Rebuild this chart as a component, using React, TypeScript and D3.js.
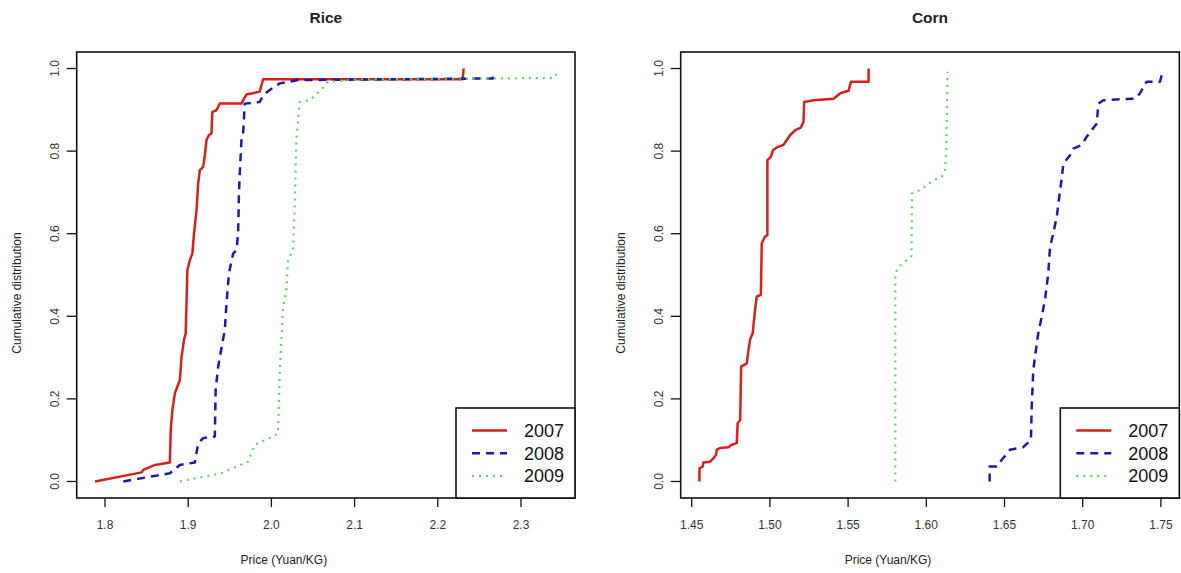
import React from "react";
import * as d3 from "d3";

// price / cumulative share points
const rice2007: [number, number][] = [
  [1.788, 0], [1.844, 0.022], [1.846, 0.028], [1.86, 0.04], [1.878, 0.046],
  [1.879, 0.125], [1.881, 0.173], [1.884, 0.214], [1.887, 0.23], [1.89, 0.246],
  [1.892, 0.302], [1.895, 0.343], [1.897, 0.359], [1.899, 0.512], [1.902, 0.536],
  [1.905, 0.552], [1.907, 0.601], [1.91, 0.657], [1.912, 0.722], [1.914, 0.754],
  [1.918, 0.762], [1.92, 0.79], [1.922, 0.827], [1.925, 0.839], [1.928, 0.843],
  [1.929, 0.895], [1.934, 0.899], [1.938, 0.915], [1.964, 0.915], [1.967, 0.927],
  [1.97, 0.937], [1.986, 0.944], [1.99, 0.974], [2.23, 0.974], [2.231, 1.0],
];
const rice2008: [number, number][] = [
  [1.822, 0], [1.878, 0.02], [1.89, 0.04], [1.908, 0.046], [1.912, 0.093],
  [1.918, 0.105], [1.932, 0.109], [1.933, 0.222], [1.936, 0.278], [1.94, 0.323],
  [1.944, 0.367], [1.946, 0.431], [1.949, 0.504], [1.954, 0.552], [1.958, 0.56],
  [1.96, 0.601], [1.961, 0.698], [1.962, 0.746], [1.964, 0.827], [1.966, 0.843],
  [1.968, 0.915], [1.986, 0.919], [1.99, 0.935], [1.998, 0.948], [2.01, 0.964],
  [2.032, 0.972], [2.266, 0.976], [2.267, 0.988],
];
const rice2009: [number, number][] = [
  [1.89, 0], [1.91, 0.008], [1.94, 0.02], [1.972, 0.048], [1.98, 0.089],
  [2.002, 0.109], [2.008, 0.117], [2.01, 0.262], [2.012, 0.343], [2.014, 0.423],
  [2.018, 0.464], [2.02, 0.536], [2.026, 0.56], [2.028, 0.665], [2.03, 0.827],
  [2.034, 0.919], [2.046, 0.923], [2.06, 0.949], [2.068, 0.968], [2.106, 0.974],
  [2.34, 0.977], [2.343, 0.99],
];

const corn2007: [number, number][] = [
  [1.4549, 0], [1.455, 0.032], [1.457, 0.036], [1.4575, 0.046], [1.4617, 0.048],
  [1.4639, 0.056], [1.4656, 0.065], [1.466, 0.077], [1.4681, 0.081], [1.4735, 0.083],
  [1.4756, 0.089], [1.4788, 0.093], [1.4794, 0.141], [1.481, 0.149], [1.4816, 0.278],
  [1.4852, 0.286], [1.4863, 0.319], [1.4873, 0.343], [1.489, 0.359], [1.4905, 0.415],
  [1.4916, 0.448], [1.4942, 0.452], [1.4948, 0.577], [1.4969, 0.593], [1.4984, 0.597],
  [1.4984, 0.778], [1.5006, 0.786], [1.5019, 0.802], [1.5044, 0.809], [1.5087, 0.815],
  [1.5108, 0.827], [1.513, 0.839], [1.5162, 0.851], [1.5198, 0.857], [1.5215, 0.871],
  [1.5219, 0.919], [1.5279, 0.923], [1.5407, 0.927], [1.545, 0.94], [1.5503, 0.946],
  [1.5518, 0.968], [1.5631, 0.968], [1.5631, 1.0],
];
const corn2008: [number, number][] = [
  [1.6405, 0], [1.6405, 0.036], [1.645, 0.036], [1.6482, 0.052], [1.6535, 0.077],
  [1.662, 0.083], [1.6669, 0.101], [1.6674, 0.181], [1.6684, 0.27], [1.6701, 0.319],
  [1.6716, 0.359], [1.6738, 0.399], [1.6759, 0.44], [1.678, 0.504], [1.6791, 0.568],
  [1.6812, 0.601], [1.6834, 0.641], [1.685, 0.689], [1.6866, 0.734], [1.6876, 0.77],
  [1.6919, 0.79], [1.694, 0.806], [1.6994, 0.815], [1.7026, 0.835], [1.7058, 0.851],
  [1.709, 0.867], [1.71, 0.915], [1.7132, 0.923], [1.7217, 0.925], [1.7334, 0.927],
  [1.7366, 0.94], [1.7409, 0.968], [1.7494, 0.968], [1.7505, 0.984],
];
const corn2009: [number, number][] = [
  [1.5802, 0], [1.5802, 0.504], [1.5823, 0.52], [1.5876, 0.536], [1.5905, 0.546],
  [1.5909, 0.698], [1.5962, 0.706], [1.6047, 0.73], [1.61, 0.738], [1.612, 0.754],
  [1.6128, 0.802], [1.6136, 0.992],
];

const years = ["2007", "2008", "2009"];
const riceTicks = [1.8, 1.9, 2.0, 2.1, 2.2, 2.3];
const cornTicks = [1.45, 1.5, 1.55, 1.6, 1.65, 1.7, 1.75];
const yTicks = [0, 0.2, 0.4, 0.6, 0.8, 1.0];

const styles = [
  { color: "#d42020", width: 2.5, dash: "none" },
  { color: "#1c1ca0", width: 2.5, dash: "8 6" },
  { color: "#5fd35f", width: 2.2, dash: "2 5" },
];

const font = "'Liberation Sans', Arial, sans-serif";

interface PanelProps {
  title: string;
  left: number;
  right: number;
  xDomain: [number, number];
  xTicks: number[];
  tickFmt: (v: number) => string;
  series: [number, number][][];
}

const top = 52;
const bottom = 498;

const Panel: React.FC<PanelProps> = ({ title, left, right, xDomain, xTicks, tickFmt, series }) => {
  const x = d3.scaleLinear().domain(xDomain).range([left, right]);
  const y = d3.scaleLinear().domain([-0.04, 1.04]).range([bottom, top]);
  const line = d3
    .line<[number, number]>()
    .x((d) => x(d[0]))
    .y((d) => y(d[1]));

  const legX = right - 119;
  const legY = 408;

  return (
    <g fontFamily={font}>
      <text x={(left + right) / 2} y={23} textAnchor="middle" fontSize={15.5} fontWeight="bold" fill="#222">
        {title}
      </text>
      {series.map((s, i) => (
        <path
          key={i}
          d={line(s) || ""}
          fill="none"
          stroke={styles[i].color}
          strokeWidth={styles[i].width}
          strokeDasharray={styles[i].dash}
          strokeLinejoin="round"
        />
      ))}
      <rect x={left} y={top} width={right - left} height={bottom - top} fill="none" stroke="#111" strokeWidth={1.6} />
      {xTicks.map((t) => (
        <g key={t}>
          <line x1={x(t)} x2={x(t)} y1={bottom} y2={bottom + 9} stroke="#111" strokeWidth={1.3} />
          <text x={x(t)} y={529} textAnchor="middle" fontSize={12} fill="#333">
            {tickFmt(t)}
          </text>
        </g>
      ))}
      {yTicks.map((t) => (
        <g key={t}>
          <line x1={left - 10} x2={left} y1={y(t)} y2={y(t)} stroke="#111" strokeWidth={1.3} />
          <text
            transform={`translate(${left - 18},${y(t)}) rotate(-90)`}
            textAnchor="middle"
            fontSize={12}
            fill="#333"
          >
            {t.toFixed(1)}
          </text>
        </g>
      ))}
      <text x={(left + right) / 2 - 42} y={564} textAnchor="middle" fontSize={12} fill="#222">
        Price (Yuan/KG)
      </text>
      <text
        transform={`translate(${left - 56},${293}) rotate(-90)`}
        textAnchor="middle"
        fontSize={12}
        fill="#222"
      >
        Cumulative distribution
      </text>
      <rect x={legX} y={legY} width={right - legX} height={bottom - legY} fill="white" stroke="#111" strokeWidth={1.6} />
      {years.map((yr, i) => (
        <g key={yr}>
          <line
            x1={legX + 16}
            x2={legX + 51}
            y1={legY + 22.5 + i * 22.7}
            y2={legY + 22.5 + i * 22.7}
            stroke={styles[i].color}
            strokeWidth={styles[i].width}
            strokeDasharray={styles[i].dash}
          />
          <text x={legX + 68} y={legY + 29 + i * 22.7} fontSize={18} fill="#111">
            {yr}
          </text>
        </g>
      ))}
    </g>
  );
};

export default function App() {
  return (
    <svg
      width={1181}
      height={573}
      style={{ position: "absolute", left: 0, top: 0, background: "white" }}
    >
      <rect width={1181} height={573} fill="white" />
      <Panel
        title="Rice"
        left={76.7}
        right={575}
        xDomain={[1.76599, 2.3649]}
        xTicks={riceTicks}
        tickFmt={(v) => v.toFixed(1)}
        series={[rice2007, rice2008, rice2009]}
      />
      <Panel
        title="Corn"
        left={680.7}
        right={1179.3}
        xDomain={[1.44297, 1.76176]}
        xTicks={cornTicks}
        tickFmt={(v) => v.toFixed(2)}
        series={[corn2007, corn2008, corn2009]}
      />
    </svg>
  );
}
